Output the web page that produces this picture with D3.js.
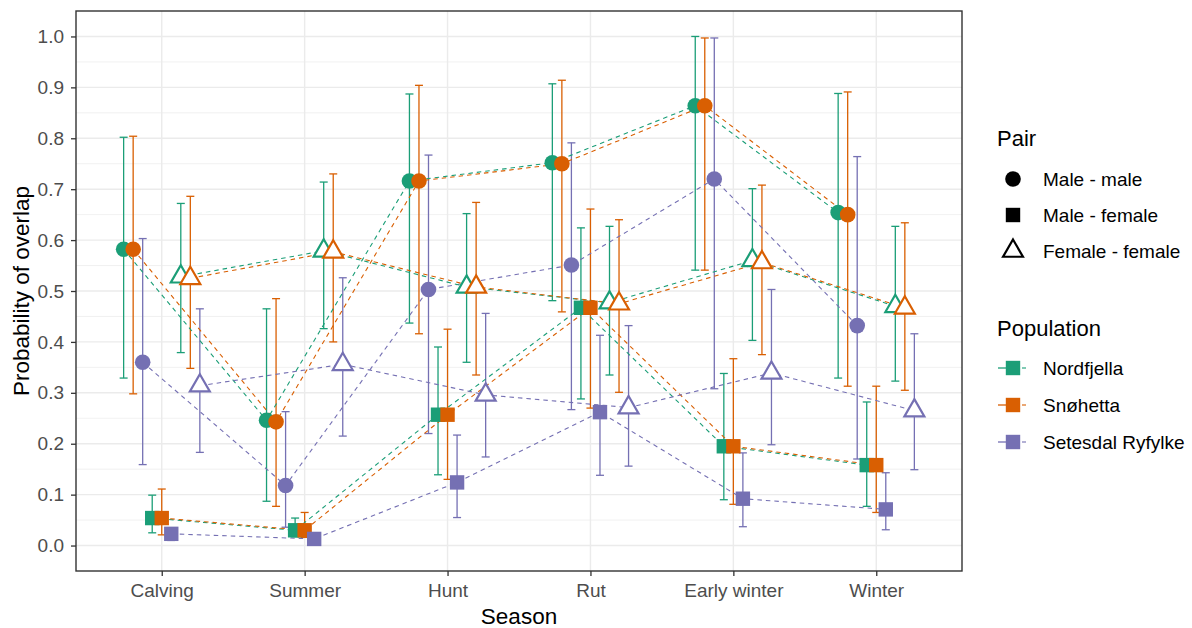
<!DOCTYPE html>
<html>
<head>
<meta charset="utf-8">
<script src="https://cdn.jsdelivr.net/npm/d3@7"></script>
<style>
html,body{margin:0;padding:0;background:#fff;}
svg{display:block;font-family:"Liberation Sans",Arial,sans-serif;}
</style>
</head>
<body>
<svg id="chart" width="1192" height="628"></svg>
<script>
const seasons = ["Calving","Summer","Hunt","Rut","Early winter","Winter"];
const populations = ["Nordfjella","Snøhetta","Setesdal Ryfylke"];
const pairs = ["Male - male","Male - female","Female - female"];
const yTicks = [0,0.1,0.2,0.3,0.4,0.5,0.6,0.7,0.8,0.9,1.0];
const popColors = ["#1B9E77","#D95F02","#7570B3"];

// Male - male
const nordMM   = [0.582,0.246,0.716,0.752,0.864,0.654];
const nordMMlo = [0.329,0.087,0.437,0.481,0.541,0.329];
const nordMMhi = [0.802,0.465,0.887,0.907,1.000,0.888];
const snoMM    = [0.582,0.243,0.716,0.750,0.864,0.650];
const snoMMlo  = [0.298,0.077,0.416,0.459,0.541,0.313];
const snoMMhi  = [0.804,0.485,0.904,0.914,0.997,0.891];
const setMM    = [0.360,0.118,0.503,0.551,0.720,0.432];
const setMMlo  = [0.159,0.036,0.220,0.267,0.308,0.170];
const setMMhi  = [0.603,0.263,0.767,0.791,0.997,0.764];
// Male - female
const nordMF   = [0.054,0.030,0.257,0.467,0.195,0.158];
const nordMFlo = [0.025,0.017,0.139,0.288,0.090,0.077];
const nordMFhi = [0.099,0.054,0.390,0.624,0.338,0.282];
const snoMF    = [0.054,0.030,0.257,0.467,0.195,0.158];
const snoMFlo  = [0.021,0.016,0.130,0.270,0.081,0.065];
const snoMFhi  = [0.111,0.065,0.425,0.661,0.367,0.313];
const setMF    = [0.023,0.013,0.124,0.262,0.092,0.071];
const setMFlo  = [0.010,0.005,0.055,0.138,0.037,0.031];
const setMFhi  = [0.035,0.022,0.217,0.413,0.182,0.143];
// Female - female
const nordFF   = [0.528,0.579,0.508,0.477,0.560,0.470];
const nordFFlo = [0.379,0.426,0.360,0.335,0.403,0.323];
const nordFFhi = [0.672,0.714,0.652,0.627,0.701,0.627];
const snoFF    = [0.525,0.577,0.508,0.475,0.556,0.467];
const snoFFlo  = [0.348,0.400,0.335,0.301,0.375,0.305];
const snoFFhi  = [0.686,0.730,0.674,0.640,0.708,0.634];
const setFF    = [0.314,0.356,0.296,0.271,0.339,0.265];
const setFFlo  = [0.183,0.215,0.174,0.156,0.198,0.149];
const setFFhi  = [0.465,0.526,0.456,0.432,0.503,0.416];

const table = [
  [[nordMM,nordMMlo,nordMMhi],[snoMM,snoMMlo,snoMMhi],[setMM,setMMlo,setMMhi]],
  [[nordMF,nordMFlo,nordMFhi],[snoMF,snoMFlo,snoMFhi],[setMF,setMFlo,setMFhi]],
  [[nordFF,nordFFlo,nordFFhi],[snoFF,snoFFlo,snoFFhi],[setFF,setFFlo,setFFhi]]
];

const series = [];
pairs.forEach((pair, pi) => {
  populations.forEach((pop, qi) => {
    const [est, lo, hi] = table[pi][qi];
    series.push({pair, pi, pop, qi, k: pi*3+qi,
      values: seasons.map((s, i) => ({season: s, est: est[i], lo: lo[i], hi: hi[i]}))});
  });
});

const svg = d3.select("#chart");
const L = 76, R = 962, T = 11, B = 571;
const x = d3.scalePoint().domain(seasons).range([L, R]).padding(0.6);
const y = d3.scaleLinear().domain([-0.05, 1.05]).range([B, T]);
const step = x.step();
const dodge = k => (k - 4) * 0.6 * step / 9;
const FONT = "'Liberation Sans', Arial, sans-serif";

// panel grid
const g = svg.append("g");
const minor = d3.range(0.05, 1.0, 0.1);
g.selectAll(".ymin").data(minor).join("line")
  .attr("x1", L).attr("x2", R).attr("y1", d => y(d)).attr("y2", d => y(d))
  .attr("stroke", "#ebebeb").attr("stroke-width", 0.7);
g.selectAll(".ymaj").data(yTicks).join("line")
  .attr("x1", L).attr("x2", R).attr("y1", d => y(d)).attr("y2", d => y(d))
  .attr("stroke", "#ebebeb").attr("stroke-width", 1.4);
g.selectAll(".xmaj").data(seasons).join("line")
  .attr("x1", d => x(d)).attr("x2", d => x(d)).attr("y1", T).attr("y2", B)
  .attr("stroke", "#ebebeb").attr("stroke-width", 1.4);

// error bars
const eb = svg.append("g");
series.forEach(s => {
  const col = popColors[s.qi];
  const gg = eb.append("g").attr("stroke", col).attr("stroke-width", 1.3).attr("fill", "none");
  s.values.forEach(v => {
    const cx = x(v.season) + dodge(s.k);
    gg.append("line").attr("x1", cx).attr("x2", cx).attr("y1", y(v.lo)).attr("y2", y(v.hi));
    gg.append("line").attr("x1", cx-4).attr("x2", cx+4).attr("y1", y(v.lo)).attr("y2", y(v.lo));
    gg.append("line").attr("x1", cx-4).attr("x2", cx+4).attr("y1", y(v.hi)).attr("y2", y(v.hi));
  });
});

// dashed lines
const line = d3.line().x(v => v.px).y(v => y(v.est));
const lg = svg.append("g");
series.forEach(s => {
  const pts = s.values.map(v => ({...v, px: x(v.season) + dodge(s.k)}));
  lg.append("path").attr("d", line(pts)).attr("fill", "none")
    .attr("stroke", popColors[s.qi]).attr("stroke-width", 1.1)
    .attr("stroke-dasharray", "4.5,4");
});

// point symbols
function drawSymbol(sel, pi, cx, cy, col) {
  if (pi === 0) {
    sel.append("circle").attr("cx", cx).attr("cy", cy).attr("r", 7.8).attr("fill", col);
  } else if (pi === 1) {
    const h = 7.2;
    sel.append("rect").attr("x", cx-h).attr("y", cy-h).attr("width", 2*h).attr("height", 2*h).attr("fill", col);
  } else {
    const r = 7.4;
    const top = 1.555*r, yc = 0.778*r, xc = 1.347*r;
    sel.append("path")
      .attr("d", `M${cx},${cy-top}L${cx+xc},${cy+yc}L${cx-xc},${cy+yc}Z`)
      .attr("fill", "#fff").attr("stroke", col).attr("stroke-width", 2.2)
      .attr("stroke-linejoin", "miter");
  }
}
const pg = svg.append("g");
series.forEach(s => {
  s.values.forEach(v => {
    drawSymbol(pg, s.pi, x(v.season) + dodge(s.k), y(v.est), popColors[s.qi]);
  });
});

// panel border
svg.append("rect").attr("x", L).attr("y", T).attr("width", R-L).attr("height", B-T)
  .attr("fill", "none").attr("stroke", "#333333").attr("stroke-width", 1.4);

// axes
const yAxis = d3.axisLeft(y).tickValues(yTicks).tickFormat(d3.format(".1f")).tickSize(5).tickPadding(7);
const ya = svg.append("g").attr("transform", `translate(${L},0)`).call(yAxis);
ya.select(".domain").remove();
ya.selectAll(".tick line").attr("stroke", "#333333").attr("stroke-width", 1.3);
ya.selectAll(".tick text").attr("fill", "#4D4D4D").style("font-size", "19px").style("font-family", FONT);

const xAxis = d3.axisBottom(x).tickSize(5).tickPadding(8);
const xa = svg.append("g").attr("transform", `translate(0,${B})`).call(xAxis);
xa.select(".domain").remove();
xa.selectAll(".tick line").attr("stroke", "#333333").attr("stroke-width", 1.3);
xa.selectAll(".tick text").attr("fill", "#4D4D4D").style("font-size", "19px").style("font-family", FONT);

svg.append("text").attr("x", (L+R)/2).attr("y", 624).attr("text-anchor", "middle")
  .style("font-size", "22.5px").attr("fill", "#000").text("Season");
svg.append("text").attr("transform", `translate(29,${(T+B)/2}) rotate(-90)`)
  .attr("text-anchor", "middle").style("font-size", "22.5px").attr("fill", "#000")
  .text("Probability of overlap");

// legend: Pair
const leg = svg.append("g");
leg.append("text").attr("x", 997).attr("y", 146).style("font-size", "22px").text("Pair");
const pairY = [179, 215, 251];
pairs.forEach((p, i) => {
  drawSymbol(leg, i, 1013, pairY[i], "#000");
  leg.append("text").attr("x", 1043).attr("y", pairY[i]).attr("dy", "0.35em")
    .style("font-size", "19px").text(p);
});
// legend: Population
leg.append("text").attr("x", 997).attr("y", 336).style("font-size", "22px").text("Population");
const popY = [368, 405, 442];
populations.forEach((p, i) => {
  const col = popColors[i];
  const cy = popY[i];
  leg.append("line").attr("x1", 998).attr("x2", 1010).attr("y1", cy).attr("y2", cy)
    .attr("stroke", col).attr("stroke-width", 1.3);
  leg.append("line").attr("x1", 1022).attr("x2", 1026).attr("y1", cy).attr("y2", cy)
    .attr("stroke", col).attr("stroke-width", 1.1);
  leg.append("rect").attr("x", 1013-7.2).attr("y", cy-7.2).attr("width", 14.4).attr("height", 14.4).attr("fill", col);
  leg.append("text").attr("x", 1043).attr("y", cy).attr("dy", "0.35em")
    .style("font-size", "19px").text(p);
});
</script>
</body>
</html>
